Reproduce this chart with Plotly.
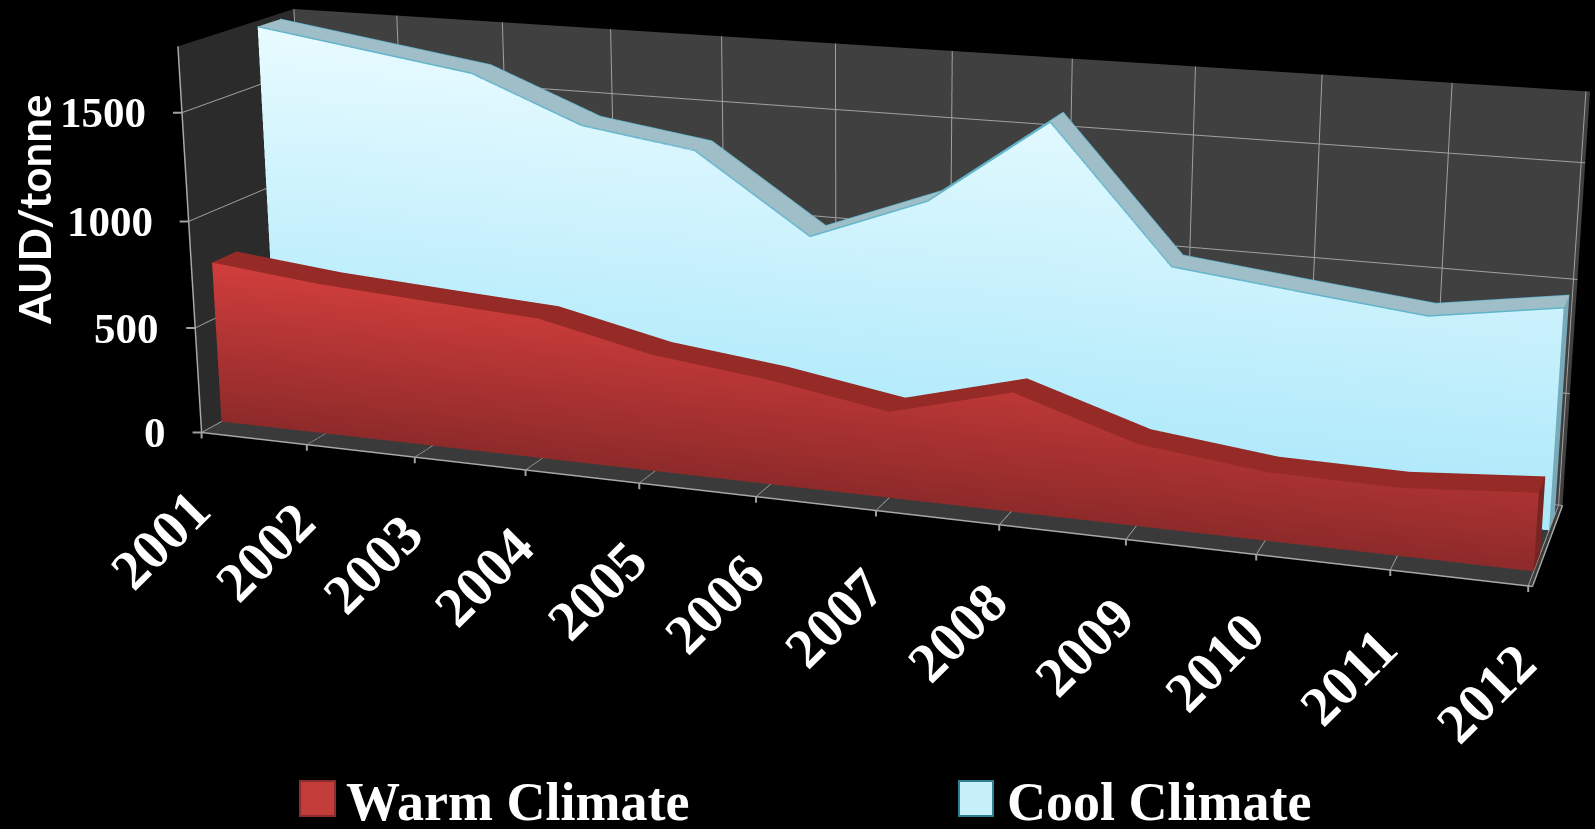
import math
import plotly.graph_objects as go

years = [2001,2002,2003,2004,2005,2006,2007,2008,2009,2010,2011,2012]
warm = [765,712,680,650,535,475,388,530,360,298,292,333]
cool = [1773,1698,1623,1418,1343,993,1197,1587,996,936,879,964]
y_ticks = [0,500,1000,1500]
ZMAX = 1800
W,H = 1595,829

def lerp(a,b,t):
    return tuple(a[i]+(b[i]-a[i])*t for i in range(3))
def css(c):
    return "rgb(%d,%d,%d)"%tuple(round(v) for v in c)

def solid(values, y0, y1, bottom, top, strip, cap, name):
    X,Y,Z,C,I,J,K = [],[],[],[],[],[],[]
    def v(x,y,z,col):
        X.append(x);Y.append(y);Z.append(z);C.append(css(col));return len(X)-1
    def quad(a,b,c,d):
        I.extend([a,a]);J.extend([b,c]);K.extend([c,d])
    vmax = max(values)
    for i in range(len(years)-1):
        x0,x1=years[i],years[i+1]; z0,z1=values[i],values[i+1]
        c0=lerp(bottom,top,z0/vmax); c1=lerp(bottom,top,z1/vmax)
        quad(v(x0,y0,0,bottom),v(x1,y0,0,bottom),v(x1,y0,z1,c1),v(x0,y0,z0,c0))
        quad(v(x0,y0,z0,strip),v(x1,y0,z1,strip),v(x1,y1,z1,strip),v(x0,y1,z0,strip))
    e=len(years)-1
    quad(v(years[e],y0,0,cap),v(years[e],y1,0,cap),v(years[e],y1,values[e],cap),v(years[e],y0,values[e],cap))
    return go.Mesh3d(x=X,y=Y,z=Z,i=I,j=J,k=K,vertexcolor=C,flatshading=True,showscale=False,name=name,
        lighting=dict(ambient=1,diffuse=0,specular=0,roughness=1,fresnel=0),hoverinfo="skip")

def edge(values,y,color):
    return go.Scatter3d(x=years,y=[y]*len(years),z=values,mode="lines",line=dict(color=color,width=3),showlegend=False,hoverinfo="skip")

fig=go.Figure()
fig.add_trace(solid(cool,0.67,0.87,(170,232,250),(232,251,255),(160,190,200),(120,170,185),"Cool Climate"))
fig.add_trace(edge(cool,0.67,"#5fb4cc"))
fig.add_trace(edge(cool,0.87,"#5fb4cc"))
fig.add_trace(solid(warm,0.17,0.38,(142,42,42),(208,62,60),(150,42,38),(120,36,34),"Warm Climate"))

FONT="Liberation Serif"
TICK=dict(showarrow=True,arrowhead=0,arrowwidth=2,arrowcolor="#a0a0a0",standoff=0,text=" ")
anns=[dict(TICK,x=y,y=0,z=0,ax=0,ay=16) for y in years]
anns+=[dict(TICK,x=2001,y=0,z=t,ax=-12,ay=0) for t in y_ticks]
anns+=[dict(x=y,y=0,z=0,text="<b>%d</b>"%y,textangle=-45,showarrow=False,xshift=-42,yshift=-107,
      font=dict(family=FONT,size=56,color="white")) for y in years]
anns+=[dict(x=2001,y=0,z=t,text="<b>%d</b>"%t,showarrow=False,xanchor="right",xshift=-34,
      font=dict(family=FONT,size=43,color="white")) for t in y_ticks]

ax=dict(showbackground=True,gridcolor="#a0a0a0",gridwidth=2,showline=True,linecolor="#a8a8a8",
        linewidth=3,zeroline=False,showticklabels=False,title="",showspikes=False)

def px_x(p): return p/W
def px_y(p): return 1-p/H

shapes=[dict(type="rect",xref="paper",yref="paper",x0=px_x(300),x1=px_x(335),y0=px_y(816),y1=px_y(781),
             fillcolor="#c23c3a",line=dict(color="#8c2c2c",width=2)),
        dict(type="rect",xref="paper",yref="paper",x0=px_x(959),x1=px_x(993),y0=px_y(816),y1=px_y(781),
             fillcolor="#c8f0fb",line=dict(color="#2f7f92",width=2))]

def label(px,py,text,font,**kw):
    return dict(xref="paper",yref="paper",x=px_x(px),y=px_y(py),text=text,showarrow=False,yanchor="middle",font=font,**kw)

fig.update_layout(
    width=W,height=H,margin=dict(l=0,r=0,t=0,b=0),paper_bgcolor="black",plot_bgcolor="rgba(0,0,0,0)",
    showlegend=False,shapes=shapes,
    scene=dict(domain=dict(x=[0.0746,1],y=[0.252,1]),
        xaxis=dict(ax,backgroundcolor="#2b2b2b",range=[2001,2012.03],tickvals=years),
        yaxis=dict(ax,backgroundcolor="#404040",range=[0,1],tickvals=[],showgrid=False),
        zaxis=dict(ax,backgroundcolor="#3a3a3a",range=[0,ZMAX],tickvals=y_ticks),
        aspectmode="manual",aspectratio=dict(x=3.40,y=0.58,z=1.015),
        camera=dict(eye=dict(x=2.35,y=-6.73,z=1.882),center=dict(x=0,y=0,z=-0.098),up=dict(x=0,y=0,z=1),projection=dict(type="perspective")),
        annotations=anns),
    annotations=[
        label(34,210,"<b>AUD/tonne</b>",dict(family="Lato",size=44,color="white"),textangle=-90,xanchor="center"),
        label(344,802,"<b>Warm Climate</b>",dict(family=FONT,size=54,color="white"),xanchor="left"),
        label(1005,802,"<b>Cool Climate</b>",dict(family=FONT,size=54,color="white"),xanchor="left"),
    ],
)
fov = 2*math.atan(310/3000)
post = """document.body.style.margin=0;document.body.style.background='black';document.body.style.overflow='hidden';
var gd=document.getElementById('{plot_id}');var gp=gd._fullLayout.scene._scene.glplot;gp.fovy=%f;gp.redraw();""" % fov
fig.write_html("out.html",post_script=post,config=dict(displayModeBar=False))
